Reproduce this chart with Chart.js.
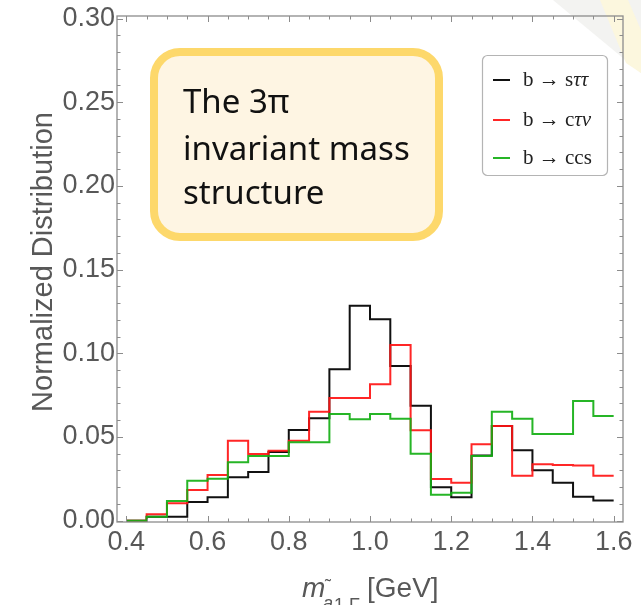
<!DOCTYPE html>
<html>
<head>
<meta charset="utf-8">
<script src="https://cdn.jsdelivr.net/npm/chart.js@4/dist/chart.umd.min.js"></script>
<style>
  html, body { margin: 0; padding: 0; background: #ffffff; }
  #wrap { position: relative; width: 641px; height: 605px; }
  canvas { display: block; }
</style>
</head>
<body>
<div id="wrap"><canvas id="c" width="641" height="605"></canvas></div>
<script>
// ---------- data ----------
const binEdges = [0.40, 0.45, 0.50, 0.55, 0.60, 0.65, 0.70, 0.75, 0.80, 0.85, 0.90, 0.95,
                  1.00, 1.05, 1.10, 1.15, 1.20, 1.25, 1.30, 1.35, 1.40, 1.45, 1.50, 1.55, 1.60];
const seriesNames = ['b \u2192 s\u03C4\u03C4', 'b \u2192 c\u03C4\u03BD', 'b \u2192 ccs'];
const bSTauTau = [0, 0.0024, 0.0024, 0.0112, 0.0140, 0.0259, 0.0291, 0.0410, 0.0542, 0.0612, 0.0904, 0.1284,
                  0.1203, 0.0924, 0.0687, 0.0200, 0.0140, 0.0390, 0.0566, 0.0420, 0.0301, 0.0227, 0.0143, 0.0120];
const bCTauNu  = [0, 0.0038, 0.0104, 0.0183, 0.0273, 0.0478, 0.0398, 0.0418, 0.0478, 0.0650, 0.0733, 0.0733,
                  0.0815, 0.1050, 0.0540, 0.0249, 0.0227, 0.0456, 0.0566, 0.0269, 0.0337, 0.0333, 0.0330, 0.0269];
const bCCS     = [0, 0.0024, 0.0118, 0.0239, 0.0251, 0.0349, 0.0387, 0.0387, 0.0468, 0.0468, 0.0637, 0.0606,
                  0.0637, 0.0609, 0.0400, 0.0155, 0.0167, 0.0387, 0.0650, 0.0609, 0.0518, 0.0518, 0.0715, 0.0625];
const xTickValues = [0.4, 0.6, 0.8, 1.0, 1.2, 1.4, 1.6];
const xTickLabels = ['0.4', '0.6', '0.8', '1.0', '1.2', '1.4', '1.6'];
const yTickValues = [0, 0.05, 0.10, 0.15, 0.20, 0.25, 0.30];
const yTickLabels = ['0.00', '0.05', '0.10', '0.15', '0.20', '0.25', '0.30'];
const noteLines = ['The 3\u03C0', 'invariant mass', 'structure'];
const yTitle = 'Normalized Distribution';

// ---------- build histogram step points ----------
function stepPoints(vals) {
  const pts = vals.map((v, i) => ({ x: binEdges[i], y: v }));
  pts.push({ x: binEdges[vals.length], y: vals[vals.length - 1] });
  return pts;
}
const colors = ['#111111', 'rgba(255,20,20,0.92)', 'rgba(20,175,20,0.92)'];

function roundRect(ctx, x, y, w, h, r) {
  ctx.beginPath();
  ctx.moveTo(x + r, y);
  ctx.lineTo(x + w - r, y);
  ctx.arcTo(x + w, y, x + w, y + r, r);
  ctx.lineTo(x + w, y + h - r);
  ctx.arcTo(x + w, y + h, x + w - r, y + h, r);
  ctx.lineTo(x + r, y + h);
  ctx.arcTo(x, y + h, x, y + h - r, r);
  ctx.lineTo(x, y + r);
  ctx.arcTo(x, y, x + r, y, r);
  ctx.closePath();
}

const decor = {
  id: 'decor',
  beforeDraw(chart) {
    const ctx = chart.ctx;
    ctx.save();
    ctx.fillStyle = '#ffffff';
    ctx.fillRect(0, 0, chart.width, chart.height);
    // faint slide background in top-right corner
    ctx.fillStyle = '#f3f3f1';
    ctx.beginPath();
    ctx.moveTo(553, 0); ctx.lineTo(641, 0); ctx.lineTo(641, 73); ctx.closePath(); ctx.fill();
    ctx.fillStyle = '#fcf7de';
    ctx.beginPath();
    ctx.moveTo(600, 0); ctx.lineTo(628, 0); ctx.lineTo(641, 30); ctx.lineTo(641, 73); ctx.lineTo(626, 63); ctx.closePath(); ctx.fill();
    ctx.restore();
  },
  afterDraw(chart) {
    const ctx = chart.ctx;
    const xs = chart.scales.x, ys = chart.scales.y;
    const a = chart.chartArea;
    ctx.save();
    // frame
    ctx.strokeStyle = '#8c8c8c';
    ctx.lineWidth = 1.3;
    ctx.strokeRect(a.left, a.top, a.right - a.left, a.bottom - a.top);
    // ticks (inward on all four sides)
    ctx.lineWidth = 1;
    ctx.beginPath();
    for (let i = 0; i <= 24; i++) {
      const v = 0.4 + i * 0.05;
      const major = (i % 4 === 0);
      const px = Math.round(xs.getPixelForValue(v)) + 0.5;
      const len = major ? 6 : 3.5;
      ctx.moveTo(px, a.bottom); ctx.lineTo(px, a.bottom - len);
      ctx.moveTo(px, a.top); ctx.lineTo(px, a.top + len);
    }
    for (let i = 0; i <= 30; i++) {
      const v = i * 0.01;
      const major = (i % 5 === 0);
      const py = Math.round(ys.getPixelForValue(v)) + 0.5;
      const len = major ? 6 : 3.5;
      ctx.moveTo(a.left, py); ctx.lineTo(a.left + len, py);
      ctx.moveTo(a.right, py); ctx.lineTo(a.right - len, py);
    }
    ctx.stroke();

    // tick labels
    ctx.fillStyle = '#585858';
    ctx.font = '27px "Liberation Sans", Arial, sans-serif';
    ctx.textAlign = 'center';
    ctx.textBaseline = 'middle';
    xTickValues.forEach((v, i) => {
      ctx.fillText(xTickLabels[i], xs.getPixelForValue(v), 543);
    });
    ctx.textAlign = 'right';
    yTickValues.forEach((v, i) => {
      ctx.fillText(yTickLabels[i], a.left - 2, ys.getPixelForValue(v));
    });

    // y title
    ctx.save();
    ctx.translate(44, 262);
    ctx.rotate(-Math.PI / 2);
    ctx.textAlign = 'center';
    ctx.textBaseline = 'middle';
    ctx.font = '29px "Liberation Sans", Arial, sans-serif';
    ctx.fillText(yTitle, 0, 0);
    ctx.restore();

    // x title: m_{ã1,F} [GeV]
    ctx.textAlign = 'left';
    ctx.textBaseline = 'alphabetic';
    ctx.font = 'italic 28px "Liberation Sans", Arial, sans-serif';
    ctx.fillText('m', 302, 597);
    ctx.font = 'italic 18px "Liberation Sans", Arial, sans-serif';
    ctx.fillText('a', 323, 609);
    ctx.font = '18px "Liberation Sans", Arial, sans-serif';
    ctx.fillText('\u02DC', 325, 592);
    ctx.fillText('1,F', 334, 611);
    ctx.font = '28px "Liberation Sans", Arial, sans-serif';
    ctx.fillText('[GeV]', 367, 597);

    // legend box
    roundRect(ctx, 482.5, 55.5, 125, 120, 5);
    ctx.fillStyle = '#ffffff';
    ctx.fill();
    ctx.strokeStyle = '#b4b4b4';
    ctx.lineWidth = 1.2;
    ctx.stroke();
    const ly = [80, 120, 158];
    const upFont = '21px "Liberation Serif", "DejaVu Serif", serif';
    const itFont = 'italic 21px "Liberation Serif", "DejaVu Serif", serif';
    seriesNames.forEach((name, i) => {
      ctx.strokeStyle = colors[i];
      ctx.lineWidth = 2;
      ctx.beginPath();
      ctx.moveTo(493, ly[i]); ctx.lineTo(510, ly[i]);
      ctx.stroke();
      ctx.fillStyle = '#222222';
      ctx.textBaseline = 'middle';
      ctx.textAlign = 'left';
      let x = 523;
      for (const ch of name) {
        const greek = /[\u0370-\u03FF]/.test(ch);
        ctx.font = greek ? itFont : upFont;
        const s = (ch === '\u2192') ? ' \u2192 ' : ch;
        if (ch === ' ') continue;
        ctx.fillText(s, x, ly[i]);
        x += ctx.measureText(s).width;
      }
    });

    // annotation box
    roundRect(ctx, 154, 52, 285, 185, 26);
    ctx.fillStyle = '#fef5e3';
    ctx.fill();
    ctx.strokeStyle = '#fdd86b';
    ctx.lineWidth = 8;
    ctx.stroke();
    ctx.fillStyle = '#111111';
    ctx.font = '33px "Noto Sans", "Open Sans", sans-serif';
    ctx.textAlign = 'left';
    ctx.textBaseline = 'alphabetic';
    const nb = [113, 160, 204];
    noteLines.forEach((t, i) => ctx.fillText(t, 183, nb[i]));
    ctx.restore();
  }
};

const ds = [bSTauTau, bCTauNu, bCCS].map((vals, i) => ({
  label: seriesNames[i],
  data: stepPoints(vals),
  borderColor: colors[i],
  borderWidth: 2,
  stepped: true,
  pointRadius: 0,
  fill: false,
  order: 3 - i
}));

new Chart(document.getElementById('c'), {
  type: 'line',
  data: { datasets: ds },
  options: {
    responsive: false,
    animation: false,
    devicePixelRatio: 1,
    layout: { padding: { left: 117, top: 16, right: 18, bottom: 83 } },
    plugins: { legend: { display: false }, tooltip: { enabled: false } },
    scales: {
      x: { type: 'linear', min: 0.377, max: 1.623, display: false },
      y: { type: 'linear', min: -0.0008, max: 0.3015, display: false }
    }
  },
  plugins: [decor]
});
</script>
</body>
</html>
